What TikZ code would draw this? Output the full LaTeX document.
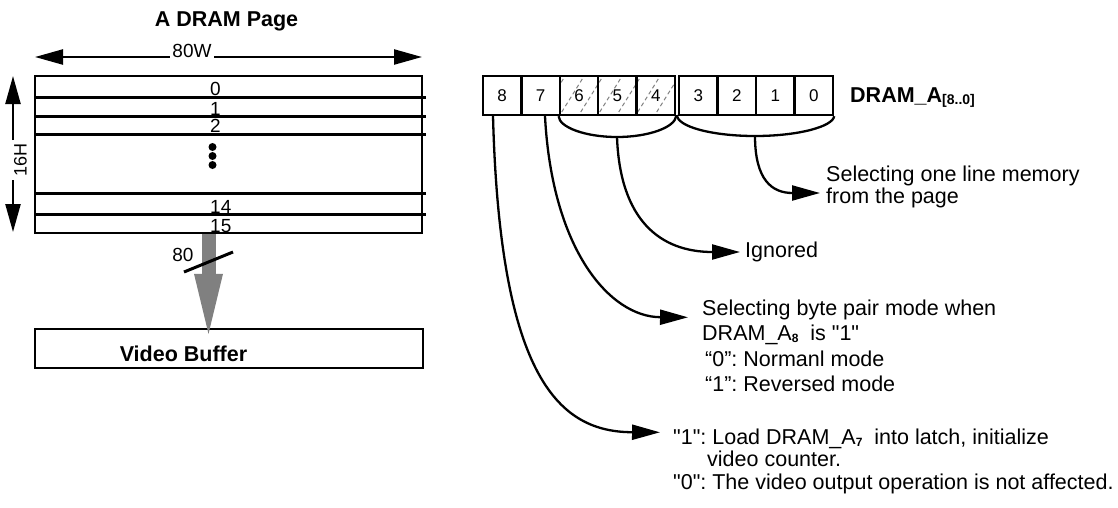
\documentclass[tikz,border=0pt]{standalone}
\usepackage{fontspec}
\setmainfont{Liberation Sans}
\usetikzlibrary{arrows.meta}
\frenchspacing
\newcommand{\dq}{\textquotedbl}
\begin{document}
\begin{tikzpicture}[x=1pt,y=-1pt,
  font=\fontsize{21.5}{22}\selectfont\frenchspacing,
  ln/.style={line width=2.3pt},
  tip/.style={-{Triangle[length=28pt,width=15pt]}},
  numlab/.style={font=\fontsize{19}{19}\selectfont, inner sep=0pt, anchor=base west},
  cell/.style={draw, line width=2.3pt, minimum width=38.4pt, minimum height=39pt, inner sep=0pt, font=\fontsize{17}{17}\selectfont},
  hatch/.style={gray, line width=1pt, dash pattern=on 4pt off 3pt},
  txt/.style={inner sep=0pt, align=left}]
\useasboundingbox (0,0) rectangle (1118,507);

% ---------- left: DRAM page ----------
\node[font=\fontsize{21.5}{22}\selectfont\bfseries, anchor=base] (title) at (226.5,26.5) {A DRAM Page};

\coordinate (wl) at (35,57);
\coordinate (wr) at (422,57);
\node[font=\fontsize{19}{19}\selectfont, anchor=base, inner sep=2.5pt] (w80) at (192,57) {80W};
\draw[ln,tip] (w80.west |- wl) -- (wl);
\draw[ln,tip] (w80.east |- wr) -- (wr);

\coordinate (ht) at (13,76);
\coordinate (hb) at (13,232);
\node[font=\fontsize{18}{18}\selectfont, rotate=90, inner sep=0pt] (h16) at (20.5,160) {16H};
\draw[ln,tip] (13,140) -- (ht);
\draw[ln,tip] (13,180) -- (hb);

\node[draw, line width=2.5pt, minimum width=387pt, minimum height=157pt, inner sep=0pt] (page) at (228.5,154.5) {};
\foreach \yy in {97,116,134,193,214} \draw[line width=3pt] (35,\yy) -- (426,\yy);

\node[numlab] (r0) at (210,95.5) {0};
\node[numlab] (r1) at (210,115) {1};
\node[numlab] (r2) at (210,132) {2};
\node[numlab] (r14) at (210,213) {14};
\node[numlab] (r15) at (210,232) {15};
\foreach \yy in {147,156,165} \fill (212.5,\yy) circle (4pt);

% grey bus arrow
\node[draw, line width=2.3pt, minimum width=388pt, minimum height=39pt, inner sep=0pt] (vb) at (229,348.5) {};
\node[font=\fontsize{21.5}{22}\selectfont\bfseries, anchor=base] (vbt) at (183.5,361) {Video Buffer};
\coordinate (gs) at ([xshift=-20pt]page.south);
\coordinate (ge) at ([xshift=-20.5pt,yshift=-6pt]vb.north);
\draw[line width=14pt, color=gray, -{Triangle[length=60pt,width=29pt,line width=0pt]}] (gs -| ge) -- (ge);
\draw[line width=3pt] (184,272) -- (233,252);
\node[font=\fontsize{19}{19}\selectfont, inner sep=0pt] (n80) at (183,255) {80};

% ---------- right: address bits ----------
\begin{scope}
  \clip (559,76) rectangle (675,115);
  \foreach \k in {0,...,9} \draw[hatch] (520+\k*19,118) -- ++(28,-45);
\end{scope}
\node[cell] (c8) at (502.2,95.5) {8};
\node[cell] (c7) at (540.6,95.5) {7};
\node[cell] (c6) at (579.0,95.5) {6};
\node[cell] (c5) at (617.4,95.5) {5};
\node[cell] (c4) at (655.8,95.5) {4};
\node[cell, minimum width=38.5pt] (c3) at (698.25,95.5) {3};
\node[cell, minimum width=38.5pt] (c2) at (736.75,95.5) {2};
\node[cell, minimum width=38.5pt] (c1) at (775.25,95.5) {1};
\node[cell, minimum width=38.5pt] (c0) at (813.75,95.5) {0};

\node[font=\fontsize{21.5}{22}\selectfont\bfseries, anchor=base west, inner sep=0pt] (reg) at (850,102)
  {DRAM\_A\raisebox{-2pt}{\fontsize{14}{14}\selectfont [8..0]}};

% braces
\draw[ln] (c6.south west) .. controls (559,127.1) and (584.9,137) .. (617,137)
          .. controls (649.1,137) and (675,127.1) .. (c4.south east);
\coordinate (b64) at (617,137);
\draw[ln] (677,115) .. controls (677,126.6) and (711.9,136) .. (755,136)
          .. controls (798.1,136) and (833,126.6) .. (c0.south east);
\coordinate (b30) at (755,136);

% texts
\node[txt, anchor=west] (t1) at (826,187) {Selecting one line memory\\from the page};
\node[txt, anchor=west] (t2) at (745,252) {Ignored};
\node[txt, anchor=north west, font=\fontsize{21.5}{25.5}\selectfont\frenchspacing] (t3) at (702,299.3)
  {Selecting byte pair mode when\\
   DRAM\_A\raisebox{-2pt}{\fontsize{12}{12}\selectfont\bfseries 8}\ \ is \dq1\dq\\
   \hspace{3pt}“0”: Normanl mode\\
   \hspace{3pt}“1”: Reversed mode};
\node[txt, anchor=north west, font=\fontsize{21.5}{22.5}\selectfont\frenchspacing] (t4) at (673,428.3)
  {\dq1\dq: Load DRAM\_A\raisebox{-2pt}{\fontsize{12}{12}\selectfont\bfseries 7}\ \ into latch, initialize\\
   \hspace{34pt}video counter.\\
   \dq0\dq: The video output operation is not affected.};

% connectors
\draw[ln,tip] (b30) .. controls (755,180) and (772,193) .. ([xshift=-6pt,yshift=-6pt]t1.west);
\draw[ln,tip] (b64) .. controls (620,220) and (660,252) .. ([xshift=-5pt]t2.west);
\draw[ln,tip] ([xshift=4.4pt]c7.south) .. controls (552,250) and (610,317) .. ([xshift=-14pt,yshift=-18pt]t3.north west);
\draw[ln,tip] ([xshift=-9.2pt]c8.south) .. controls (500,380) and (560,432) .. ([xshift=-13pt,yshift=-4pt]t4.north west);
\end{tikzpicture}
\end{document}
